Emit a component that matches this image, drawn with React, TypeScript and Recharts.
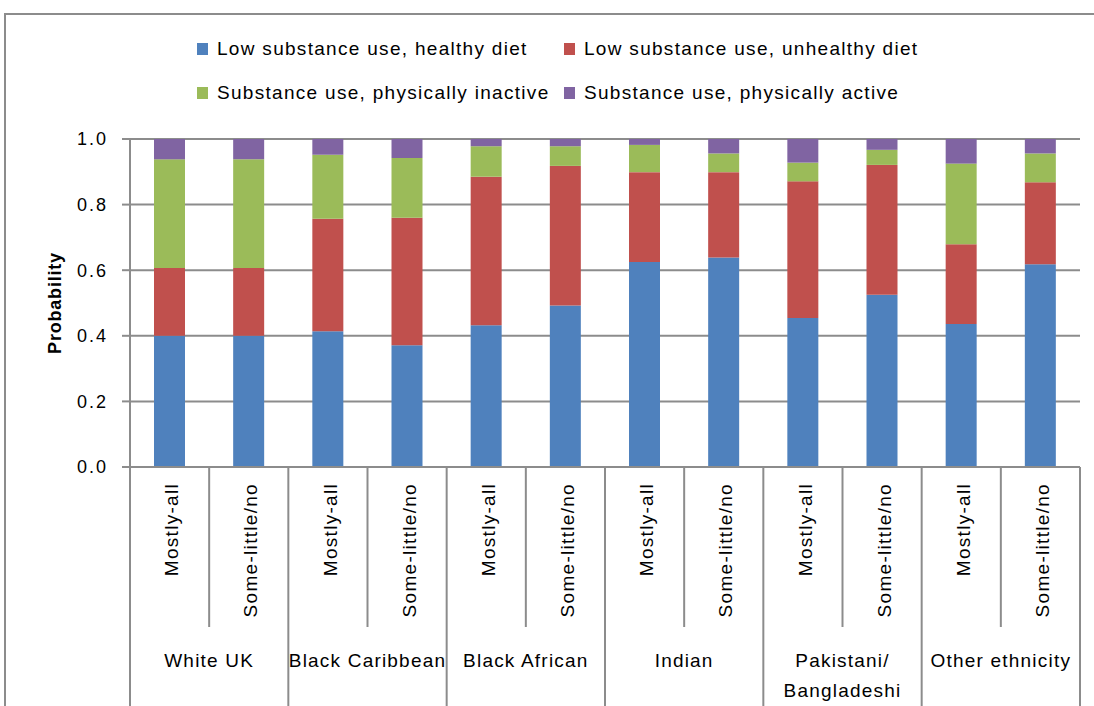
import { BarChart, Bar, XAxis, YAxis, CartesianGrid, Legend, Label } from 'recharts'

const ethnicGroups = ['White UK', 'Black Caribbean', 'Black African', 'Indian', 'Pakistani/\nBangladeshi', 'Other ethnicity']
const englishUse = ['Mostly-all', 'Some-little/no']

const healthyDiet = [0.4, 0.4, 0.414, 0.371, 0.432, 0.492, 0.625, 0.639, 0.454, 0.525, 0.436, 0.618]
const unhealthyDiet = [0.207, 0.207, 0.343, 0.389, 0.453, 0.426, 0.274, 0.26, 0.417, 0.396, 0.243, 0.25]
const inactive = [0.331, 0.331, 0.195, 0.182, 0.093, 0.06, 0.083, 0.057, 0.057, 0.046, 0.246, 0.088]
const active = [0.062, 0.062, 0.048, 0.058, 0.022, 0.022, 0.018, 0.044, 0.072, 0.033, 0.075, 0.044]

const yTicks = [0, 0.2, 0.4, 0.6, 0.8, 1.0]

const SERIES = [
  { key: 'healthy', name: 'Low substance use, healthy diet', color: '#4F81BD' },
  { key: 'unhealthy', name: 'Low substance use, unhealthy diet', color: '#C0504D' },
  { key: 'inactive', name: 'Substance use, physically inactive', color: '#9BBB59' },
  { key: 'active', name: 'Substance use, physically active', color: '#8064A2' },
]

const data = healthyDiet.map((v, i) => ({
  key: `${ethnicGroups[Math.floor(i / 2)]}|${englishUse[i % 2]}`,
  healthy: v,
  unhealthy: unhealthyDiet[i],
  inactive: inactive[i],
  active: active[i],
}))

const W = 1094
const H = 706
const PLOT_LEFT = 130
const PLOT_RIGHT = 1080
const PLOT_BOTTOM = 467
const AXIS_H = H - PLOT_BOTTOM
const BAND = (PLOT_RIGHT - PLOT_LEFT) / data.length
const FONT = '"Liberation Sans", Arial, sans-serif'
const GRID = '#8c8c8c'

function CategoryTick(props: any) {
  const { x, y, index } = props
  const groupStart = index % 2 === 0
  const left = x - BAND / 2
  const sub = englishUse[index % 2]
  const group = ethnicGroups[Math.floor(index / 2)].split('\n')
  return (
    <g>
      <line x1={left} y1={y} x2={left} y2={groupStart ? H : y + 160} stroke={GRID} strokeWidth={2} />
      {index === data.length - 1 && (
        <line x1={x + BAND / 2} y1={y} x2={x + BAND / 2} y2={H} stroke={GRID} strokeWidth={2} />
      )}
      <text
        x={x + 2}
        y={y + 16}
        dy="0.35em"
        transform={`rotate(-90, ${x + 2}, ${y + 16})`}
        textAnchor="end"
        fontSize={19}
        letterSpacing={1.3}
        fontFamily={FONT}
        fill="#000"
      >
        {sub}
      </text>
      {groupStart &&
        group.map((line, k) => (
          <text
            key={k}
            x={x + BAND / 2}
            y={y + 193 + k * 30}
            dy="0.35em"
            textAnchor="middle"
            fontSize={19}
            letterSpacing={1.2}
            fontFamily={FONT}
            fill="#000"
          >
            {line}
          </text>
        ))}
    </g>
  )
}

function LegendBox() {
  return (
    <div
      style={{
        display: 'grid',
        gridTemplateColumns: '367px auto',
        rowGap: 22,
        fontFamily: FONT,
        fontSize: 19,
        letterSpacing: 1.3,
        color: '#000',
        whiteSpace: 'nowrap',
      }}
    >
      {SERIES.map(s => (
        <div key={s.key} style={{ display: 'flex', alignItems: 'center', height: 22 }}>
          <span style={{ width: 11, height: 12, background: s.color, marginRight: 9, display: 'inline-block' }} />
          <span>{s.name}</span>
        </div>
      ))}
    </div>
  )
}

export default function App() {
  return (
    <div style={{ position: 'absolute', left: 0, top: 0, width: W, height: H, overflow: 'hidden', background: '#fff' }}>
      <div
        style={{
          position: 'absolute',
          left: 4,
          top: 13,
          width: W,
          height: H,
          border: '2px solid #8c8c8c',
          boxSizing: 'border-box',
        }}
      />
      <BarChart
        width={W}
        height={H}
        data={data}
        margin={{ top: 139, right: W - PLOT_RIGHT, bottom: 0, left: 0 }}
        barSize={31}
      >
        <CartesianGrid vertical={false} stroke={GRID} strokeWidth={2} />
        <YAxis
          width={PLOT_LEFT}
          domain={[0, 1]}
          ticks={yTicks}
          tickFormatter={(v: number) => v.toFixed(1)}
          axisLine={{ stroke: GRID, strokeWidth: 2 }}
          tickLine={{ stroke: GRID, strokeWidth: 2 }}
          tickSize={8}
          tickMargin={14}
          tick={{ fontSize: 18, fontFamily: FONT, fill: '#000', letterSpacing: 2 }}
        >
          <Label
            value="Probability"
            angle={-90}
            position="insideLeft"
            offset={55}
            style={{ fontSize: 18, fontWeight: 'bold', fontFamily: FONT, fill: '#000', textAnchor: 'middle', letterSpacing: 0.8 }}
          />
        </YAxis>
        <XAxis
          dataKey="key"
          height={AXIS_H}
          interval={0}
          axisLine={{ stroke: GRID, strokeWidth: 2 }}
          tickLine={false}
          tickSize={0}
          tickMargin={0}
          tick={<CategoryTick />}
        />
        <Legend
          verticalAlign="middle"
          align="center"
          content={<LegendBox />}
          wrapperStyle={{ top: 38, left: 197, width: 800 }}
        />
        {SERIES.map(s => (
          <Bar key={s.key} dataKey={s.key} name={s.name} stackId="p" fill={s.color} isAnimationActive={false} />
        ))}
      </BarChart>
    </div>
  )
}
